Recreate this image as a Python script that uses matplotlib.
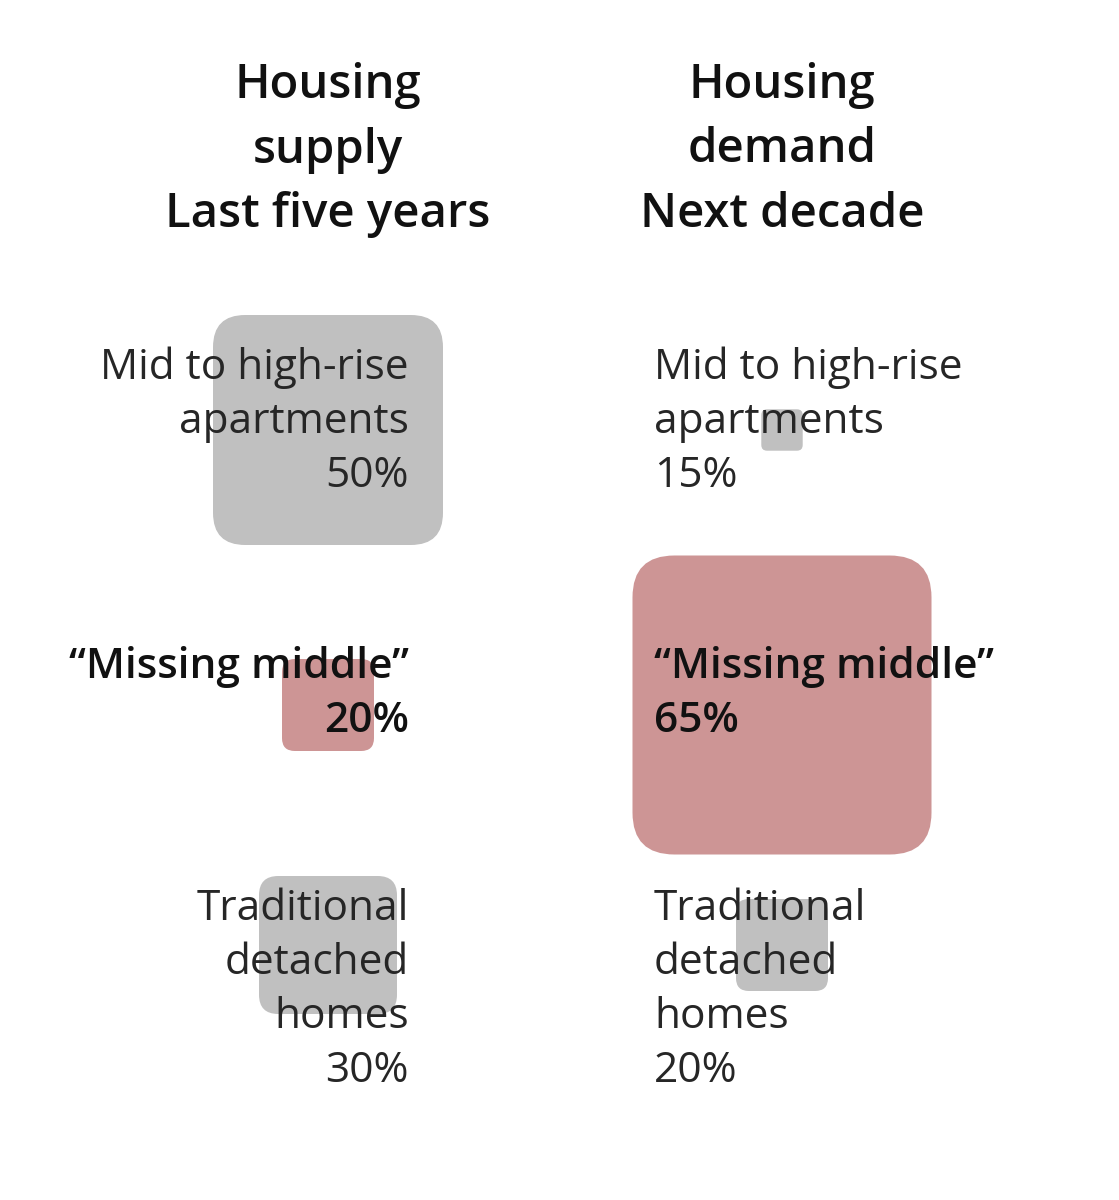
import matplotlib
matplotlib.use("Agg")
import matplotlib.pyplot as plt
from matplotlib.patches import FancyBboxPatch

# data
column_titles = ["Housing\nsupply\nLast five years", "Housing\ndemand\nNext decade"]
categories = ["Mid to high-rise\napartments", "\u201cMissing middle\u201d", "Traditional\ndetached\nhomes"]
supply_pct = [50, 20, 30]
demand_pct = [15, 65, 20]
# side of each square (the 15% square is drawn smaller in the source)
supply_box = [50, 20, 30]
demand_box = [9, 65, 20]

GREY = "#c0c0c0"
PINK = "#cd9595"
FONT = ["Open Sans", "DejaVu Sans"]

fig = plt.figure(figsize=(11.19, 12), dpi=100)
ax = fig.add_axes([0, 0, 1, 1])
ax.set_xlim(0, 1119)
ax.set_ylim(1200, 0)
ax.axis("off")

col_x = [328, 782]
row_y = [430, 705, 945]
first_baseline = [379, 678, 920]
line_step = 54
px_per_pct = 4.6

# column titles
for cx, title in zip(col_x, column_titles):
    for i, line in enumerate(title.split("\n")):
        ax.text(cx, 98 + i * 64.5, line, ha="center", va="baseline",
                fontsize=34, family=FONT, weight="semibold", color="#111111")

for c, (pcts, boxes) in enumerate([(supply_pct, supply_box), (demand_pct, demand_box)]):
    cx = col_x[c]
    for r, (cat, pct, bx) in enumerate(zip(categories, pcts, boxes)):
        side = bx * px_per_pct
        color = PINK if r == 1 else GREY
        patch = FancyBboxPatch((cx - side / 2, row_y[r] - side / 2), side, side,
                               boxstyle=f"round,pad=0,rounding_size={side * 0.14}",
                               facecolor=color, edgecolor="none", zorder=1)
        ax.add_patch(patch)

        lines = cat.split("\n") + [f"{pct}%"]
        if c == 0:
            tx, ha = 409, "right"
        else:
            tx, ha = 654, "left"
        for i, line in enumerate(lines):
            if r == 1:
                weight, tcol = "semibold", "#111111"
            else:
                weight, tcol = "normal", "#262626"
            ax.text(tx, first_baseline[r] + i * line_step, line, ha=ha, va="baseline",
                    fontsize=30.5, family=FONT, weight=weight, color=tcol, zorder=2)

fig.savefig("out.png", dpi=100, facecolor="white")
